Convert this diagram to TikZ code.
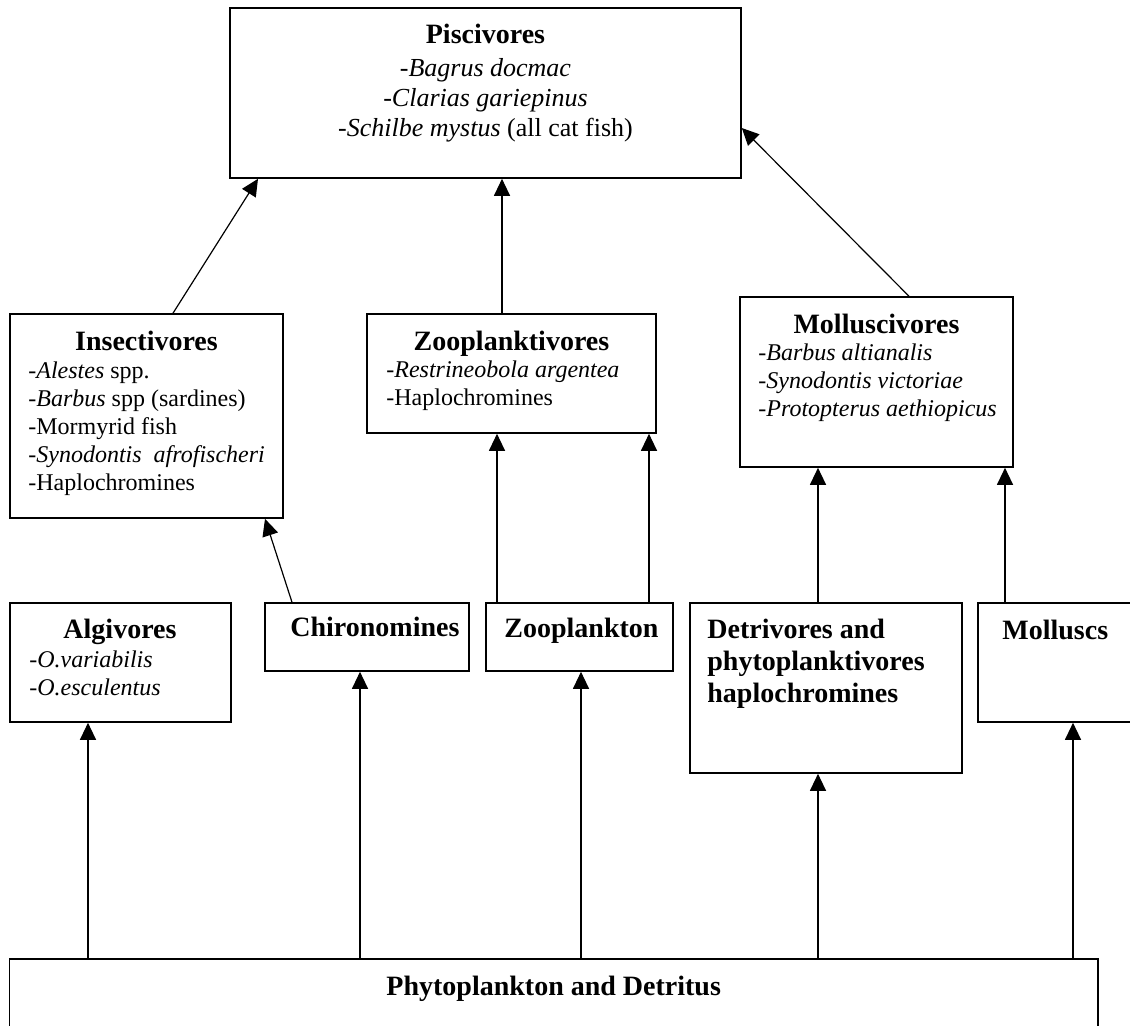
\documentclass[tikz,border=0pt]{standalone}
\usepackage{fontspec}
\setmainfont{Liberation Serif}
\usepackage{tikz}
\usetikzlibrary{arrows.meta}

\begin{document}
\begin{tikzpicture}[
    x=0.5pt, y=-0.5pt,
    box/.style={draw, line width=0.8pt, inner sep=0pt},
    ttl/.style={font=\fontsize{14}{16}\selectfont\bfseries, inner sep=0pt},
    lst/.style={font=\fontsize{12}{14}\selectfont, inner sep=0pt, align=left, anchor=north west},
    arr/.style={-{Triangle[length=8.5pt, width=8pt]}, line width=0.6pt}
]
\useasboundingbox (0,0) rectangle (1130,1025);
\clip (0,0) rectangle (1130,1025);

% boxes
\node[box, minimum width=255.5pt, minimum height=85pt] (pisc) at (485.5,93) {};
\node[box, minimum width=136.5pt, minimum height=102pt] (insect) at (146.5,416) {};
\node[box, minimum width=144.5pt, minimum height=59.5pt] (zoopv) at (511.5,373.5) {};
\node[box, minimum width=136.5pt, minimum height=85pt] (mollv) at (876.5,382) {};
\node[box, minimum width=110.5pt, minimum height=59.5pt] (algiv) at (120.3,662.5) {};
\node[box, minimum width=102pt, minimum height=34pt] (chiro) at (367,637) {};
\node[box, minimum width=93.5pt, minimum height=34pt] (zoopl) at (579.5,637) {};
\node[box, minimum width=136pt, minimum height=85pt] (detri) at (826,688) {};
\node[box, minimum width=86pt, minimum height=59.5pt] (moll) at (1064,662.5) {};
\node[box, minimum width=544.3pt, minimum height=50.5pt] (phyto) at (553.7,1009.5) {};

% texts
\node[ttl, anchor=base] (piscT) at (485.5,43) {Piscivores};
\node[font=\fontsize{13}{15}\selectfont, inner sep=0pt, align=center, anchor=north] (piscL) at (485.5,58)
    {\textit{-Bagrus docmac}\\ \textit{-Clarias gariepinus}\\ \textit{-Schilbe mystus} (all cat fish)};
\node[ttl, anchor=base] (insectT) at (146.5,350) {Insectivores};
\node[lst] (insectL) at (28,361.6)
    {-\textit{Alestes} spp.\\ -\textit{Barbus} spp (sardines)\\ -Mormyrid fish\\ -\textit{Synodontis\ \ afrofischeri}\\ -Haplochromines};
\node[ttl, anchor=base] (zoopvT) at (511.5,350) {Zooplanktivores};
\node[lst] (zoopvL) at (386,360.6) {-\textit{Restrineobola argentea}\\ -Haplochromines};
\node[ttl, anchor=base] (mollvT) at (876.5,333) {Molluscivores};
\node[lst] (mollvL) at (758,343.6)
    {\textit{-Barbus altianalis}\\ \textit{-Synodontis victoriae}\\ \textit{-Protopterus aethiopicus}};
\node[ttl, anchor=base] (algivT) at (120,638) {Algivores};
\node[lst] (algivL) at (29,650.6) {\textit{-O.variabilis}\\ \textit{-O.esculentus}};
\node[ttl, anchor=base west] (chiroT) at (290,636) {Chironomines};
\node[ttl, anchor=base west] (zooplT) at (504,637) {Zooplankton};
\node[ttl, align=left, anchor=north west] (detriT) at (707,619) {Detrivores and\\ phytoplanktivores\\ haplochromines};
\node[ttl, anchor=base west] (mollT) at (1002,639) {Molluscs};
\node[ttl, anchor=base] (phytoT) at (553.7,995) {Phytoplankton and Detritus};

% connectors
\draw[arr] (phyto.north -| 88,0) -- (algiv.south -| 88,0);
\draw[arr] (phyto.north -| 360,0) -- (chiro.south -| 360,0);
\draw[arr] (phyto.north -| 581,0) -- (zoopl.south -| 581,0);
\draw[arr] (phyto.north -| 818,0) -- (detri.south -| 818,0);
\draw[arr] (phyto.north -| 1073,0) -- (moll.south -| 1073,0);
\draw[arr] (zoopl.north -| 497,0) -- (zoopv.south -| 497,0);
\draw[arr] (zoopl.north -| 649,0) -- (zoopv.south -| 649,0);
\draw[arr] (detri.north -| 818,0) -- (mollv.south -| 818,0);
\draw[arr] (moll.north -| 1005,0) -- (mollv.south -| 1005,0);
\draw[arr] (chiro.north -| 292,0) -- (insect.south -| 265,0);
\draw[arr] (insect.north -| 173,0) -- (pisc.south -| 258,0);
\draw[arr] (zoopv.north -| 502,0) -- (pisc.south -| 502,0);
\draw[arr] (mollv.north -| 909,0) -- (pisc.east |- 0,128);
\end{tikzpicture}
\end{document}
